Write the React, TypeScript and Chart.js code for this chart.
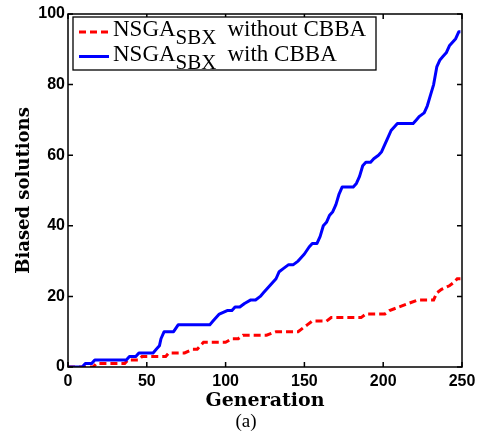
import React, { useEffect, useRef } from "react";
import { Chart, registerables } from "chart.js";

Chart.register(...registerables);

// ---- data ----
const xTicks = [0, 50, 100, 150, 200, 250];
const yTicks = [0, 20, 40, 60, 80, 100];

const withGen = [0, 9, 11, 15, 17, 37, 39, 43, 45, 54, 56, 58, 59, 61, 67, 70, 90, 92, 94, 96, 101, 104, 106, 109, 112, 116, 119, 122, 124, 126, 128, 130, 132, 134, 137, 140, 143, 146, 148, 150, 153, 155, 158, 160, 162, 164, 166, 168, 170, 172, 174, 181, 183, 185, 187, 189, 192, 194, 197, 199, 201, 203, 205, 207, 209, 219, 221, 223, 226, 228, 230, 232, 234, 236, 238, 240, 242, 244, 246, 248, 249];
const withVal = [0, 0, 1, 1, 2, 2, 3, 3, 4, 4, 5, 6, 8, 10, 10, 12, 12, 13, 14, 15, 16, 16, 17, 17, 18, 19, 19, 20, 21, 22, 23, 24, 25, 27, 28, 29, 29, 30, 31, 32, 34, 35, 35, 37, 40, 41, 43, 44, 46, 49, 51, 51, 52, 54, 57, 58, 58, 59, 60, 61, 63, 65, 67, 68, 69, 69, 70, 71, 72, 74, 77, 80, 85, 87, 88, 89, 91, 92, 93, 95, 95];

const withoutGen = [0, 16, 18, 36, 38, 45, 47, 62, 64, 74, 79, 82, 84, 86, 100, 104, 108, 111, 126, 132, 146, 149, 152, 155, 164, 167, 186, 189, 201, 204, 210, 216, 222, 232, 234, 237, 242, 245, 247, 249];
const withoutVal = [0, 0, 1, 1, 2, 2, 3, 3, 4, 4, 5, 5, 6, 7, 7, 8, 8, 9, 9, 10, 10, 11, 12, 13, 13, 14, 14, 15, 15, 16, 17, 18, 19, 19, 21, 22, 23, 24, 25, 25];

const legendMain = ["NSGA", "NSGA"];
const legendSub = ["SBX", "SBX"];
const legendTail = ["without CBBA", "with CBBA"];
const legendColors = ["#ff0000", "#0000ff"];
const legendDashes = [[7, 4], []];

const xTitle = "Generation";
const yTitle = "Biased solutions";
const caption = "(a)";

const framePlugin = {
  id: "frame",
  afterDatasetsDraw(chart: any) {
    const { ctx, chartArea: a, scales } = chart;
    ctx.save();
    ctx.strokeStyle = "#000";
    ctx.lineWidth = 1.5;
    ctx.setLineDash([]);
    ctx.strokeRect(a.left, a.top, a.right - a.left, a.bottom - a.top);
    const tl = 5;
    ctx.beginPath();
    xTicks.forEach((v) => {
      const px = scales.x.getPixelForValue(v);
      ctx.moveTo(px, a.bottom);
      ctx.lineTo(px, a.bottom - tl);
      ctx.moveTo(px, a.top);
      ctx.lineTo(px, a.top + tl);
    });
    yTicks.forEach((v) => {
      const py = scales.y.getPixelForValue(v);
      ctx.moveTo(a.left, py);
      ctx.lineTo(a.left + tl, py);
      ctx.moveTo(a.right, py);
      ctx.lineTo(a.right - tl, py);
    });
    ctx.stroke();

    // legend
    const lx = a.left + 5;
    const ly = a.top + 3;
    const lw = 303;
    const lh = 53;
    ctx.fillStyle = "#fff";
    ctx.fillRect(lx, ly, lw, lh);
    ctx.lineWidth = 1.3;
    ctx.strokeRect(lx, ly, lw, lh);
    ctx.textBaseline = "alphabetic";
    ctx.textAlign = "left";
    for (let i = 0; i < legendMain.length; i++) {
      const sy = ly + 15 + 24.5 * i;
      const base = ly + 18.5 + 25 * i;
      ctx.strokeStyle = legendColors[i];
      ctx.lineWidth = 3;
      ctx.lineCap = "butt";
      ctx.setLineDash(legendDashes[i]);
      ctx.beginPath();
      ctx.moveTo(lx + 6, sy);
      ctx.lineTo(lx + 36, sy);
      ctx.stroke();
      ctx.setLineDash([]);
      ctx.fillStyle = "#000";
      let tx = lx + 40;
      ctx.font = '23px "Liberation Serif"';
      ctx.fillText(legendMain[i], tx, base);
      tx += ctx.measureText(legendMain[i]).width;
      ctx.font = '21px "Liberation Serif"';
      ctx.fillText(legendSub[i], tx, base + 8);
      tx += ctx.measureText(legendSub[i]).width + 11;
      ctx.font = '23px "Liberation Serif"';
      ctx.fillText(legendTail[i], tx, base);
    }

    // axis titles
    ctx.fillStyle = "#000";
    ctx.font = 'bold 19px "DejaVu Serif"';
    ctx.textAlign = "center";
    ctx.fillText(xTitle, (a.left + a.right) / 2, 406);
    ctx.save();
    ctx.translate(29, (a.top + a.bottom) / 2);
    ctx.rotate(-Math.PI / 2);
    ctx.font = 'bold 18px "DejaVu Serif"';
    ctx.fillText(yTitle, 0, 0);
    ctx.restore();
    ctx.font = '19px "Liberation Serif"';
    ctx.fillText(caption, 246, 427);
    ctx.restore();
  },
};

export default function App() {
  const ref = useRef<HTMLCanvasElement>(null);
  useEffect(() => {
    if (!ref.current) return;
    const chart = new Chart(ref.current, {
      type: "line",
      data: {
        datasets: [
          {
            label: legendMain[1] + legendSub[1] + " " + legendTail[1],
            data: withGen.map((x, i) => ({ x, y: withVal[i] })),
            borderColor: legendColors[1],
            borderWidth: 3,
            pointRadius: 0,
            tension: 0,
            borderJoinStyle: "round",
          },
          {
            label: legendMain[0] + legendSub[0] + " " + legendTail[0],
            data: withoutGen.map((x, i) => ({ x, y: withoutVal[i] })),
            borderColor: legendColors[0],
            borderWidth: 3,
            borderDash: legendDashes[0],
            pointRadius: 0,
            tension: 0,
          },
        ],
      },
      options: {
        animation: false,
        responsive: false,
        layout: { padding: { left: 0, right: 23, top: 14, bottom: 0 } },
        plugins: { legend: { display: false }, tooltip: { enabled: false } },
        scales: {
          x: {
            type: "linear",
            min: 0,
            max: 250,
            afterFit: (s: any) => {
              s.height = 67;
            },
            afterBuildTicks: (s: any) => {
              s.ticks = xTicks.map((v) => ({ value: v }));
            },
            ticks: {
              color: "#000",
              font: { family: "Liberation Sans", weight: "bold", size: 16 },
              padding: 5,
              maxRotation: 0,
              autoSkip: false,
            },
            grid: { display: false, drawTicks: false },
            border: { display: false },
          },
          y: {
            min: 0,
            max: 100,
            afterFit: (s: any) => {
              s.width = 68;
            },
            afterBuildTicks: (s: any) => {
              s.ticks = yTicks.map((v) => ({ value: v }));
            },
            ticks: {
              color: "#000",
              font: { family: "Liberation Sans", weight: "bold", size: 16 },
              padding: 3,
            },
            grid: { display: false, drawTicks: false },
            border: { display: false },
          },
        },
      },
      plugins: [framePlugin],
    });
    return () => chart.destroy();
  }, []);
  return (
    <div style={{ position: "absolute", left: 0, top: 0, width: 485, height: 434, background: "#fff" }}>
      <canvas ref={ref} width={485} height={434} />
    </div>
  );
}
